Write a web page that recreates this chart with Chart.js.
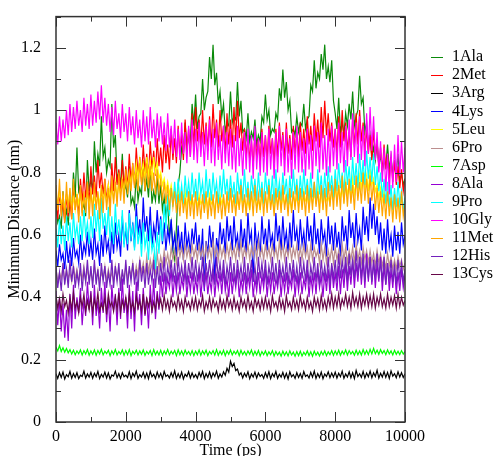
<!DOCTYPE html>
<html lang="en">
<head>
    <meta charset="utf-8"/>
    <script src="https://cdn.jsdelivr.net/npm/chart.js@4.4.1/dist/chart.umd.min.js"></script>
    <style>
        body { margin: 0; background: #fff; }
    </style>
</head>
<body>
    <canvas id="chart" width="496" height="456"></canvas>
    <script>
        // time axis (ps), one sample every 50 ps
        const times = [
            0,50,100,150,200,250,300,350,400,450,500,550,600,650,700,750,800,850,900,950,
            1000,1050,1100,1150,1200,1250,1300,1350,1400,1450,1500,1550,1600,1650,1700,1750,1800,1850,1900,1950,
            2000,2050,2100,2150,2200,2250,2300,2350,2400,2450,2500,2550,2600,2650,2700,2750,2800,2850,2900,2950,
            3000,3050,3100,3150,3200,3250,3300,3350,3400,3450,3500,3550,3600,3650,3700,3750,3800,3850,3900,3950,
            4000,4050,4100,4150,4200,4250,4300,4350,4400,4450,4500,4550,4600,4650,4700,4750,4800,4850,4900,4950,
            5000,5050,5100,5150,5200,5250,5300,5350,5400,5450,5500,5550,5600,5650,5700,5750,5800,5850,5900,5950,
            6000,6050,6100,6150,6200,6250,6300,6350,6400,6450,6500,6550,6600,6650,6700,6750,6800,6850,6900,6950,
            7000,7050,7100,7150,7200,7250,7300,7350,7400,7450,7500,7550,7600,7650,7700,7750,7800,7850,7900,7950,
            8000,8050,8100,8150,8200,8250,8300,8350,8400,8450,8500,8550,8600,8650,8700,8750,8800,8850,8900,8950,
            9000,9050,9100,9150,9200,9250,9300,9350,9400,9450,9500,9550,9600,9650,9700,9750,9800,9850,9900,9950,
            10000
        ];

        const residues = ["1Ala", "2Met", "3Arg", "4Lys", "5Leu", "6Pro", "7Asp",
                          "8Ala", "9Pro", "10Gly", "11Met", "12His", "13Cys"];
        const colors = ["#0a8a0a", "#ff0000", "#000000", "#0000ff", "#ffff00", "#bc8f8f", "#00ff00",
                        "#9400d3", "#00ffff", "#ff00ff", "#ffa500", "#7221bc", "#670748"];

        // minimum distance (nm) per residue
        const ala1 = [
            .70,.64,.66,.62,.74,.65,.68,.63,.72,.68,.80,.72,.88,.74,.76,.68,.70,.66,.84,.74,
            .78,.74,.90,.80,.86,.82,.98,.85,.88,.80,.84,.82,1.02,.88,.92,.78,.80,.76,.86,.74,
            .76,.72,.82,.70,.72,.69,.80,.71,.75,.73,.84,.74,.78,.72,.82,.70,.74,.71,.79,.70,
            .76,.68,.72,.66,.70,.60,.64,.55,.52,.62,.76,.80,.88,.86,.96,.87,.92,.90,1.02,.95,
            1.05,.94,.98,.99,1.10,1.00,1.04,1.06,1.17,1.10,1.21,1.08,1.12,1.02,1.06,.98,1.02,.93,.96,.95,
            1.06,.96,.98,.97,1.09,.98,1.03,.93,.94,.91,.99,.90,.93,.91,.97,.89,.92,.90,.98,.96,
            1.05,.97,1.00,.92,.94,.93,.99,.97,1.07,1.03,1.13,1.04,1.09,1.00,1.03,.93,.94,.92,.98,.93,
            .96,.95,1.02,.94,.97,.98,1.08,1.06,1.16,1.07,1.12,1.10,1.18,1.13,1.21,1.10,1.14,1.09,1.16,1.03,
            .99,.94,1.04,.93,.96,.92,.99,.95,1.02,.97,1.06,.95,.98,1.00,1.11,1.02,1.04,.93,.96,.88,
            .92,.85,.88,.84,.90,.82,.86,.80,.84,.82,.89,.81,.85,.79,.82,.80,.86,.77,.80,.76,
            .78
        ];
        const met2 = [
            .72,.65,.74,.67,.70,.64,.73,.66,.71,.65,.75,.68,.73,.66,.78,.70,.80,.72,.77,.70,
            .82,.73,.79,.72,.84,.75,.80,.73,.78,.71,.76,.70,.83,.74,.85,.76,.81,.74,.84,.75,
            .82,.75,.86,.77,.83,.76,.88,.79,.85,.77,.89,.80,.86,.78,.90,.81,.87,.79,.91,.82,
            .88,.80,.92,.83,.89,.81,.94,.84,.91,.83,.95,.86,.92,.84,.97,.87,.94,.85,.99,.88,
            1.01,.90,.97,.88,1.00,.89,.96,.87,.98,.88,1.02,.91,.97,.88,1.00,.90,.95,.86,.99,.89,
            .97,.88,1.01,.90,1.03,.91,.96,.87,.94,.85,.92,.84,.90,.82,.93,.85,.91,.83,.94,.85,
            .92,.84,.95,.86,.91,.83,.94,.85,.96,.87,.93,.84,.96,.86,.92,.84,.95,.86,.93,.85,
            .96,.87,.94,.86,.98,.89,.95,.87,.99,.90,.97,.88,1.01,.91,1.03,.92,.99,.90,.96,.88,
            .94,.86,.98,.88,1.00,.90,.96,.87,.93,.85,.97,.88,.99,.89,1.00,.90,.96,.87,.94,.86,
            .92,.84,.94,.85,.90,.82,.88,.80,.89,.81,.86,.78,.85,.77,.84,.76,.82,.75,.81,.74,
            .78
        ];
        const arg3 = [
            .155,.140,.158,.143,.160,.138,.152,.145,.162,.140,.155,.143,.158,.139,.150,.146,.163,.141,.154,.144,
            .159,.140,.156,.145,.162,.139,.153,.144,.160,.141,.157,.138,.151,.147,.163,.142,.155,.140,.158,.145,
            .150,.142,.161,.139,.156,.146,.163,.140,.152,.144,.159,.141,.157,.139,.162,.145,.153,.140,.160,.143,
            .156,.139,.162,.146,.151,.141,.158,.144,.164,.140,.155,.142,.160,.138,.153,.146,.161,.141,.157,.143,
            .152,.140,.159,.145,.162,.139,.155,.143,.160,.141,.157,.146,.163,.140,.154,.144,.161,.150,.172,.160,
            .195,.178,.188,.165,.170,.150,.158,.141,.156,.145,.161,.139,.154,.144,.160,.141,.157,.146,.152,.140,
            .158,.143,.161,.139,.155,.145,.162,.140,.153,.144,.159,.141,.156,.138,.161,.145,.152,.140,.158,.143,
            .155,.140,.162,.146,.151,.141,.159,.144,.163,.140,.155,.143,.160,.139,.154,.146,.161,.142,.157,.144,
            .160,.141,.156,.145,.163,.140,.154,.144,.161,.142,.158,.139,.165,.146,.155,.143,.162,.141,.157,.145,
            .163,.142,.158,.146,.166,.141,.156,.144,.162,.143,.159,.140,.164,.147,.155,.142,.161,.144,.158,.143,
            .155
        ];
        const lys4 = [
            .55,.50,.57,.52,.54,.49,.58,.51,.56,.50,.59,.53,.55,.51,.60,.52,.57,.54,.61,.53,
            .58,.52,.62,.54,.57,.50,.60,.53,.63,.55,.58,.51,.61,.54,.64,.56,.60,.53,.66,.57,
            .62,.55,.68,.58,.64,.56,.70,.60,.65,.57,.72,.61,.66,.58,.69,.56,.63,.59,.68,.60,
            .66,.57,.64,.55,.62,.58,.65,.56,.60,.53,.63,.55,.61,.52,.64,.56,.60,.54,.62,.57,
            .64,.55,.60,.52,.62,.42,.58,.54,.63,.56,.61,.45,.59,.55,.64,.57,.62,.54,.66,.58,
            .63,.55,.66,.57,.60,.53,.65,.56,.62,.54,.67,.58,.61,.45,.64,.56,.60,.53,.66,.57,
            .62,.55,.65,.57,.60,.54,.67,.58,.63,.55,.66,.57,.61,.54,.64,.56,.68,.58,.62,.55,
            .65,.57,.61,.54,.66,.58,.63,.55,.67,.57,.62,.54,.65,.58,.61,.53,.66,.57,.63,.55,
            .64,.56,.61,.53,.66,.58,.63,.55,.68,.59,.64,.56,.67,.58,.62,.55,.69,.60,.66,.58,
            .72,.62,.70,.60,.66,.57,.64,.55,.62,.54,.65,.56,.60,.53,.63,.55,.61,.54,.64,.57,
            .60
        ];
        const leu5 = [
            .73,.69,.74,.70,.72,.68,.73,.70,.74,.69,.72,.68,.73,.70,.74,.69,.72,.70,.73,.69,
            .74,.70,.72,.69,.73,.70,.75,.71,.74,.70,.76,.72,.75,.71,.77,.72,.76,.73,.78,.74,
            .79,.75,.80,.76,.82,.77,.83,.78,.84,.79,.83,.78,.85,.79,.84,.78,.85,.80,.83,.78,
            .80,.76,.78,.74,.77,.73,.76,.72,.75,.71,.74,.70,.73,.70,.74,.69,.73,.70,.72,.69,
            .72,.69,.73,.70,.71,.68,.72,.69,.73,.70,.71,.68,.72,.69,.73,.70,.72,.68,.71,.69,
            .73,.70,.72,.68,.71,.69,.73,.70,.72,.69,.71,.68,.73,.70,.72,.69,.71,.68,.73,.70,
            .72,.69,.73,.70,.71,.68,.72,.70,.74,.69,.72,.70,.73,.69,.71,.68,.73,.70,.72,.69,
            .73,.70,.74,.71,.72,.69,.74,.70,.73,.71,.75,.70,.73,.69,.74,.71,.72,.70,.74,.71,
            .75,.71,.76,.72,.75,.71,.77,.73,.76,.72,.78,.73,.77,.74,.79,.75,.80,.75,.79,.74,
            .81,.76,.78,.74,.76,.72,.75,.71,.74,.70,.73,.69,.72,.68,.73,.69,.71,.68,.72,.69,
            .70
        ];
        const pro6 = [
            .49,.45,.48,.46,.50,.45,.49,.46,.48,.45,.50,.46,.49,.45,.48,.46,.50,.45,.49,.46,
            .48,.45,.50,.46,.49,.45,.48,.46,.50,.45,.49,.46,.48,.45,.50,.46,.49,.45,.48,.46,
            .50,.46,.49,.47,.51,.46,.50,.47,.52,.48,.51,.47,.53,.48,.52,.49,.53,.48,.54,.49,
            .53,.50,.55,.51,.54,.50,.56,.52,.55,.51,.57,.53,.56,.52,.57,.53,.56,.52,.57,.53,
            .56,.52,.57,.53,.56,.52,.57,.53,.56,.52,.58,.53,.56,.52,.57,.53,.56,.52,.57,.53,
            .57,.53,.56,.52,.57,.53,.58,.52,.56,.53,.57,.52,.56,.53,.57,.52,.58,.53,.56,.52,
            .57,.53,.56,.52,.57,.53,.56,.52,.58,.53,.57,.52,.56,.53,.57,.52,.56,.53,.57,.52,
            .56,.52,.57,.53,.56,.51,.57,.52,.56,.53,.55,.51,.57,.52,.56,.51,.55,.52,.56,.51,
            .56,.52,.55,.51,.57,.52,.56,.51,.55,.52,.56,.51,.57,.52,.55,.51,.56,.52,.55,.51,
            .55,.51,.54,.50,.55,.51,.54,.50,.53,.49,.54,.50,.53,.49,.52,.49,.53,.50,.52,.49,
            .51
        ];
        const asp7 = [
            .240,.228,.245,.226,.238,.224,.236,.222,.232,.218,.230,.216,.228,.219,.231,.215,.229,.218,.232,.214,
            .228,.217,.231,.214,.229,.218,.233,.215,.227,.219,.230,.213,.228,.217,.232,.215,.226,.218,.231,.214,
            .229,.216,.232,.213,.227,.218,.230,.215,.228,.217,.231,.214,.226,.218,.229,.213,.232,.216,.227,.215,
            .230,.214,.228,.217,.232,.215,.227,.218,.229,.213,.231,.216,.228,.214,.230,.217,.226,.215,.229,.213,
            .227,.216,.231,.214,.228,.217,.230,.213,.226,.218,.229,.215,.232,.214,.227,.216,.230,.213,.228,.217,
            .231,.215,.227,.218,.229,.213,.230,.216,.226,.214,.228,.217,.231,.213,.227,.215,.229,.212,.226,.216,
            .228,.213,.225,.216,.229,.212,.226,.215,.224,.211,.227,.214,.225,.212,.228,.215,.224,.211,.226,.213,
            .227,.212,.224,.215,.228,.213,.225,.211,.227,.214,.224,.212,.226,.215,.228,.213,.225,.216,.229,.214,
            .228,.216,.230,.214,.227,.217,.231,.215,.229,.218,.226,.214,.230,.216,.228,.215,.232,.217,.229,.216,
            .233,.218,.236,.219,.230,.217,.232,.220,.229,.216,.231,.218,.228,.215,.230,.217,.227,.216,.229,.218,
            .226
        ];
        const ala8 = [
            .42,.31,.40,.29,.38,.27,.36,.26,.41,.30,.44,.33,.40,.35,.43,.31,.39,.34,.45,.36,
            .42,.31,.44,.34,.39,.30,.43,.35,.45,.32,.40,.29,.44,.36,.41,.31,.43,.33,.46,.35,
            .40,.30,.44,.33,.42,.29,.45,.36,.41,.31,.43,.34,.40,.30,.44,.35,.46,.33,.42,.36,
            .47,.40,.48,.41,.46,.43,.49,.40,.47,.42,.48,.41,.46,.43,.49,.40,.47,.42,.48,.41,
            .46,.42,.49,.40,.47,.43,.48,.41,.46,.42,.49,.40,.47,.43,.48,.41,.49,.42,.46,.40,
            .48,.41,.47,.43,.49,.40,.46,.42,.48,.41,.47,.43,.49,.40,.46,.42,.48,.41,.47,.43,
            .49,.40,.47,.42,.48,.41,.46,.43,.49,.40,.47,.42,.48,.41,.46,.43,.49,.40,.47,.42,
            .48,.41,.46,.43,.49,.40,.47,.42,.48,.41,.49,.43,.47,.40,.48,.42,.49,.41,.50,.43,
            .48,.42,.50,.41,.49,.43,.51,.42,.50,.44,.52,.43,.51,.45,.53,.44,.52,.43,.54,.45,
            .53,.44,.52,.43,.51,.45,.53,.42,.50,.44,.51,.42,.49,.43,.50,.41,.48,.42,.49,.43,
            .47
        ];
        const pro9 = [
            .62,.56,.65,.57,.63,.55,.66,.58,.64,.56,.67,.59,.63,.57,.66,.58,.68,.60,.64,.57,
            .66,.59,.70,.61,.68,.58,.72,.62,.67,.60,.69,.58,.66,.57,.70,.60,.65,.58,.68,.56,
            .64,.57,.67,.59,.63,.55,.66,.57,.62,.53,.64,.56,.60,.52,.63,.55,.58,.49,.61,.54,
            .65,.58,.70,.62,.73,.66,.75,.69,.77,.70,.78,.71,.76,.70,.79,.72,.77,.71,.80,.72,
            .78,.71,.80,.73,.77,.70,.81,.72,.78,.71,.80,.73,.77,.70,.79,.72,.81,.73,.78,.71,
            .79,.72,.77,.70,.80,.73,.78,.71,.81,.72,.77,.70,.79,.73,.78,.71,.80,.72,.77,.70,
            .80,.73,.78,.71,.79,.70,.81,.72,.77,.71,.80,.73,.78,.70,.79,.72,.81,.73,.78,.71,
            .79,.72,.81,.73,.78,.71,.80,.72,.77,.70,.81,.73,.79,.71,.80,.72,.82,.74,.79,.72,
            .81,.74,.83,.75,.80,.73,.84,.76,.82,.74,.85,.76,.83,.75,.86,.77,.84,.76,.87,.78,
            .85,.77,.86,.76,.82,.74,.80,.72,.78,.70,.77,.69,.76,.68,.75,.69,.77,.70,.74,.68,
            .72
        ];
        const gly10 = [
            .96,.89,.98,.90,.97,.91,1.00,.92,1.02,.93,1.01,.94,1.03,.95,1.00,.93,1.04,.95,1.02,.94,
            1.05,.95,1.03,.96,1.06,.97,1.08,.96,1.04,.95,1.02,.93,1.01,.92,1.03,.94,.99,.91,1.02,.93,
            .99,.90,1.01,.92,.98,.89,1.00,.91,.97,.88,1.00,.90,.98,.89,1.01,.91,.97,.88,.99,.90,
            .98,.89,.96,.87,.99,.88,.95,.86,.97,.85,.94,.84,.96,.86,.93,.83,.95,.85,.97,.84,
            .94,.83,.96,.85,.93,.82,.95,.84,.97,.83,.94,.82,.96,.84,.92,.81,.95,.83,.93,.82,
            .94,.81,.92,.80,.95,.82,.91,.79,.93,.81,.94,.80,.92,.78,.95,.81,.91,.79,.93,.80,
            .92,.79,.94,.81,.91,.78,.93,.80,.95,.82,.92,.79,.94,.80,.91,.78,.93,.81,.95,.80,
            .93,.80,.91,.79,.94,.81,.92,.78,.95,.82,.93,.80,.96,.81,.92,.79,.94,.80,.95,.82,
            .94,.81,.96,.83,.93,.80,.95,.82,.97,.84,.99,.85,.96,.83,.98,.84,.95,.82,.99,.86,
            1.01,.87,.98,.84,.93,.80,.90,.77,.88,.74,.86,.73,.87,.75,.89,.77,.92,.79,.90,.80,
            .88
        ];
        const met11 = [
            .76,.68,.78,.66,.74,.64,.77,.67,.75,.65,.78,.68,.73,.64,.76,.66,.74,.67,.77,.65,
            .75,.66,.77,.68,.74,.65,.76,.67,.78,.68,.75,.66,.79,.70,.77,.69,.80,.71,.78,.70,
            .81,.73,.79,.74,.82,.75,.80,.74,.83,.76,.81,.74,.83,.75,.82,.74,.80,.73,.81,.74,
            .78,.71,.77,.70,.76,.68,.75,.69,.74,.67,.73,.66,.74,.67,.72,.65,.74,.66,.73,.65,
            .74,.66,.72,.65,.73,.67,.74,.65,.72,.66,.73,.65,.74,.67,.72,.65,.73,.66,.74,.67,
            .75,.67,.73,.66,.74,.68,.76,.67,.73,.66,.75,.68,.74,.66,.76,.67,.73,.68,.75,.66,
            .74,.67,.76,.68,.73,.66,.75,.68,.74,.67,.76,.68,.73,.66,.75,.67,.74,.68,.76,.67,
            .75,.68,.74,.66,.76,.67,.75,.68,.77,.69,.74,.67,.76,.68,.75,.66,.77,.69,.76,.68,
            .78,.69,.76,.68,.79,.70,.77,.69,.78,.70,.76,.68,.79,.71,.77,.70,.80,.71,.78,.70,
            .79,.71,.77,.68,.75,.67,.74,.66,.73,.65,.74,.66,.72,.64,.73,.65,.72,.64,.74,.66,
            .70
        ];
        const his12 = [
            .50,.43,.48,.42,.51,.44,.49,.43,.52,.45,.50,.43,.48,.44,.51,.42,.49,.45,.52,.44,
            .50,.43,.52,.44,.49,.42,.51,.45,.50,.43,.48,.44,.52,.43,.50,.45,.51,.42,.49,.44,
            .52,.43,.50,.45,.51,.44,.49,.42,.52,.45,.50,.43,.51,.44,.49,.45,.52,.43,.50,.44,
            .51,.45,.53,.44,.50,.46,.52,.45,.51,.44,.53,.46,.50,.45,.52,.44,.51,.46,.53,.45,
            .52,.45,.50,.46,.53,.44,.51,.46,.52,.45,.50,.44,.53,.46,.51,.45,.52,.44,.50,.46,
            .53,.45,.51,.44,.52,.46,.50,.45,.53,.44,.51,.46,.52,.45,.50,.44,.53,.46,.51,.45,
            .52,.44,.50,.46,.53,.45,.51,.44,.52,.46,.50,.45,.53,.44,.51,.46,.52,.45,.50,.44,
            .53,.46,.51,.45,.52,.44,.50,.46,.53,.45,.51,.44,.52,.46,.50,.45,.53,.44,.51,.46,
            .52,.45,.54,.46,.52,.47,.53,.45,.54,.47,.52,.46,.55,.47,.53,.46,.54,.45,.52,.46,
            .53,.45,.51,.47,.54,.46,.52,.45,.53,.44,.51,.46,.52,.45,.50,.44,.52,.46,.51,.45,
            .49
        ];
        const cys13 = [
            .405,.365,.395,.355,.41,.37,.39,.35,.40,.36,.415,.365,.385,.35,.40,.37,.41,.355,.39,.36,
            .405,.35,.395,.365,.415,.355,.38,.36,.40,.345,.41,.37,.385,.355,.40,.36,.415,.35,.39,.365,
            .40,.355,.41,.36,.385,.35,.405,.365,.39,.355,.41,.345,.395,.37,.40,.355,.385,.36,.405,.37,
            .395,.36,.405,.365,.39,.355,.40,.37,.385,.36,.405,.365,.39,.355,.40,.37,.385,.36,.395,.365,
            .40,.36,.39,.37,.405,.355,.385,.365,.40,.36,.395,.37,.385,.355,.40,.365,.39,.36,.405,.37,
            .39,.36,.40,.365,.385,.355,.40,.37,.39,.36,.405,.365,.385,.355,.40,.37,.39,.36,.395,.365,
            .40,.365,.39,.355,.405,.37,.385,.36,.40,.365,.39,.355,.405,.37,.385,.36,.40,.365,.39,.36,
            .405,.37,.39,.36,.40,.365,.385,.355,.40,.37,.395,.36,.405,.365,.39,.36,.40,.37,.41,.365,
            .40,.37,.41,.365,.395,.375,.41,.37,.40,.365,.415,.375,.40,.37,.41,.365,.40,.375,.41,.37,
            .405,.37,.41,.365,.40,.375,.41,.37,.395,.365,.41,.37,.40,.375,.405,.365,.41,.37,.40,.375,
            .39
        ];

        const series = [ala1, met2, arg3, lys4, leu5, pro6, asp7, ala8, pro9, gly10, met11, his12, cys13];

        const FONT = "'Liberation Serif', 'DejaVu Serif', serif";

        // frame, inward ticks (major + minor) on all four sides, and the legend
        const gracePlugin = {
            id: 'grace',
            afterDraw(chart) {
                const ctx = chart.ctx;
                const a = chart.chartArea;
                const sx = chart.scales.x, sy = chart.scales.y;
                ctx.save();
                ctx.strokeStyle = '#333';
                ctx.lineWidth = 1;
                ctx.beginPath();
                for (let v = 0; v <= 10000; v += 1000) {
                    const px = Math.round(sx.getPixelForValue(v)) + 0.5;
                    const len = v % 2000 === 0 ? 10 : 5;
                    ctx.moveTo(px, a.bottom); ctx.lineTo(px, a.bottom - len);
                    ctx.moveTo(px, a.top); ctx.lineTo(px, a.top + len);
                }
                for (let k = 0; k <= 13; k++) {
                    const py = Math.round(sy.getPixelForValue(k / 10)) + 0.5;
                    const len = k % 2 === 0 ? 10 : 5;
                    ctx.moveTo(a.left, py); ctx.lineTo(a.left + len, py);
                    ctx.moveTo(a.right, py); ctx.lineTo(a.right - len, py);
                }
                ctx.stroke();
                ctx.lineWidth = 1.5;
                ctx.strokeRect(a.left, a.top, a.right - a.left, a.bottom - a.top);

                ctx.font = '16px ' + FONT;
                ctx.textBaseline = 'middle';
                ctx.textAlign = 'left';
                residues.forEach((name, i) => {
                    const y = 57 + i * 18.1;
                    ctx.strokeStyle = colors[i];
                    ctx.lineWidth = 1;
                    ctx.beginPath();
                    ctx.moveTo(431, Math.round(y) + 0.5);
                    ctx.lineTo(443, Math.round(y) + 0.5);
                    ctx.stroke();
                    ctx.fillStyle = '#000';
                    ctx.fillText(name, 452, y);
                });
                ctx.restore();
            }
        };

        const datasets = series.map((values, i) => ({
            label: residues[i],
            data: values.map((v, j) => ({x: times[j], y: v})),
            borderColor: colors[i],
            borderWidth: 1.2,
            pointRadius: 0,
            tension: 0,
            fill: false,
            order: series.length - i
        }));

        new Chart(document.getElementById('chart'), {
            type: 'line',
            data: { datasets: datasets },
            options: {
                responsive: false,
                animation: false,
                devicePixelRatio: 1,
                layout: { padding: { left: 0, right: 91, top: 15, bottom: 0 } },
                plugins: {
                    legend: { display: false },
                    tooltip: { enabled: false }
                },
                scales: {
                    x: {
                        type: 'linear',
                        min: 0,
                        max: 10000,
                        grid: { display: false },
                        border: { display: false },
                        ticks: {
                            stepSize: 2000,
                            maxRotation: 0,
                            padding: -3,
                            color: '#000',
                            font: { family: FONT, size: 16 },
                            callback: v => String(v)
                        },
                        title: {
                            display: true,
                            text: 'Time (ps)',
                            color: '#000',
                            font: { family: FONT, size: 16 },
                            padding: { top: 0, bottom: -4 }
                        },
                        afterFit: s => { s.height = 34; }
                    },
                    y: {
                        min: 0,
                        max: 1.3,
                        grid: { display: false },
                        border: { display: false },
                        ticks: {
                            stepSize: 0.1,
                            padding: 7,
                            color: '#000',
                            font: { family: FONT, size: 16 },
                            callback: v => {
                                const k = Math.round(v * 10);
                                return (k % 2 === 0 && k <= 12) ? String(k / 10) : '';
                            }
                        },
                        title: {
                            display: true,
                            text: 'Minimum Distance (nm)',
                            color: '#000',
                            font: { family: FONT, size: 16 },
                            padding: { top: 5, bottom: 0 }
                        },
                        afterFit: s => { s.width = 56; }
                    }
                }
            },
            plugins: [gracePlugin]
        });
    </script>
</body>
</html>
